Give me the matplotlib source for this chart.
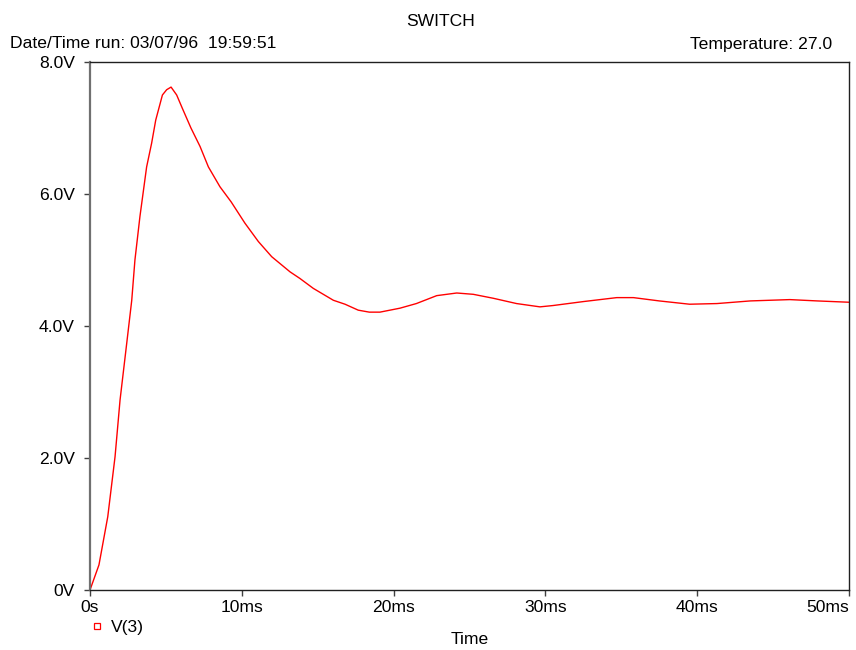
import matplotlib.pyplot as plt
from matplotlib.lines import Line2D

plt.rcParams["font.family"] = ["Liberation Sans", "DejaVu Sans"]
plt.rcParams["font.size"] = 12.6

# V(3) transient, time in ms, voltage in V
t_ms = [0.0, 0.59, 1.17, 1.65, 1.98, 2.42, 2.75, 2.96, 3.29, 3.73, 4.06, 4.33,
        4.77, 5.05, 5.34, 5.71, 6.08, 6.65, 7.25, 7.8, 8.56, 9.3, 10.2, 11.09,
        11.97, 13.18, 13.83, 14.71, 16.03, 16.8, 17.67, 18.4, 19.1, 20.42, 21.5,
        22.84, 24.16, 25.25, 26.57, 28.1, 29.64, 30.5, 32.5, 34.7, 35.8, 37.5,
        39.5, 41.3, 43.5, 46.1, 47.9, 50.0]
v3 = [0.0, 0.38, 1.11, 2.02, 2.88, 3.74, 4.39, 5.0, 5.66, 6.41, 6.77, 7.12,
      7.5, 7.58, 7.62, 7.5, 7.3, 7.0, 6.72, 6.41, 6.11, 5.88, 5.56, 5.28,
      5.05, 4.82, 4.72, 4.57, 4.39, 4.33, 4.24, 4.21, 4.21, 4.27, 4.34,
      4.46, 4.5, 4.48, 4.42, 4.34, 4.29, 4.31, 4.37, 4.43, 4.43, 4.38,
      4.33, 4.34, 4.38, 4.4, 4.38, 4.36]

x_ticks = [0, 10, 20, 30, 40, 50]
x_labels = ["0s", "10ms", "20ms", "30ms", "40ms", "50ms"]
y_ticks = [0, 2, 4, 6, 8]
y_labels = ["0V", "2.0V", "4.0V", "6.0V", "8.0V"]

fig = plt.figure(figsize=(8.56, 6.5), dpi=100)
ax = fig.add_axes([90 / 856, 60 / 650, 759 / 856, 528 / 650])

ax.plot(t_ms, v3, color="#ff0000", linewidth=1.0)

ax.set_xlim(0, 50)
ax.set_ylim(0, 8)
ax.set_xticks(x_ticks)
ax.set_xticklabels(x_labels)
ax.set_yticks(y_ticks)
ax.set_yticklabels(y_labels)
ax.tick_params(axis="both", direction="out", length=4, width=1, colors="#404040",
               labelcolor="black", labelsize=12.6)
ax.tick_params(axis="y", pad=7)
ax.tick_params(axis="x", pad=3)
ax.get_xticklabels()[-1].set_horizontalalignment("right")

for side in ["top", "right", "bottom"]:
    ax.spines[side].set_color("#202020")
    ax.spines[side].set_linewidth(1.0)
ax.spines["left"].set_color("#707070")
ax.spines["left"].set_linewidth(1.6)

fig.text(441 / 856, 1 - 22 / 650, "SWITCH", ha="center", va="center")
fig.text(10 / 856, 1 - 44 / 650, "Date/Time run: 03/07/96  19:59:51",
         ha="left", va="center")
fig.text(832 / 856, 1 - 44 / 650, "Temperature: 27.0", ha="right", va="center")
fig.text(470 / 856, 1 - 640 / 650, "Time", ha="center", va="center")

handle = Line2D([], [], color="#ff0000", marker="s", markersize=4.5,
                markerfacecolor="white", markeredgewidth=0.9, linestyle="none")
fig.legend(handles=[handle], labels=["V(3)"], loc="center left",
           bbox_to_anchor=(90 / 856, 1 - 627 / 650), frameon=False,
           handlelength=0.8, handletextpad=0.4, fontsize=12.6,
           borderpad=0, borderaxespad=0)

fig.savefig("out.png", dpi=100)
